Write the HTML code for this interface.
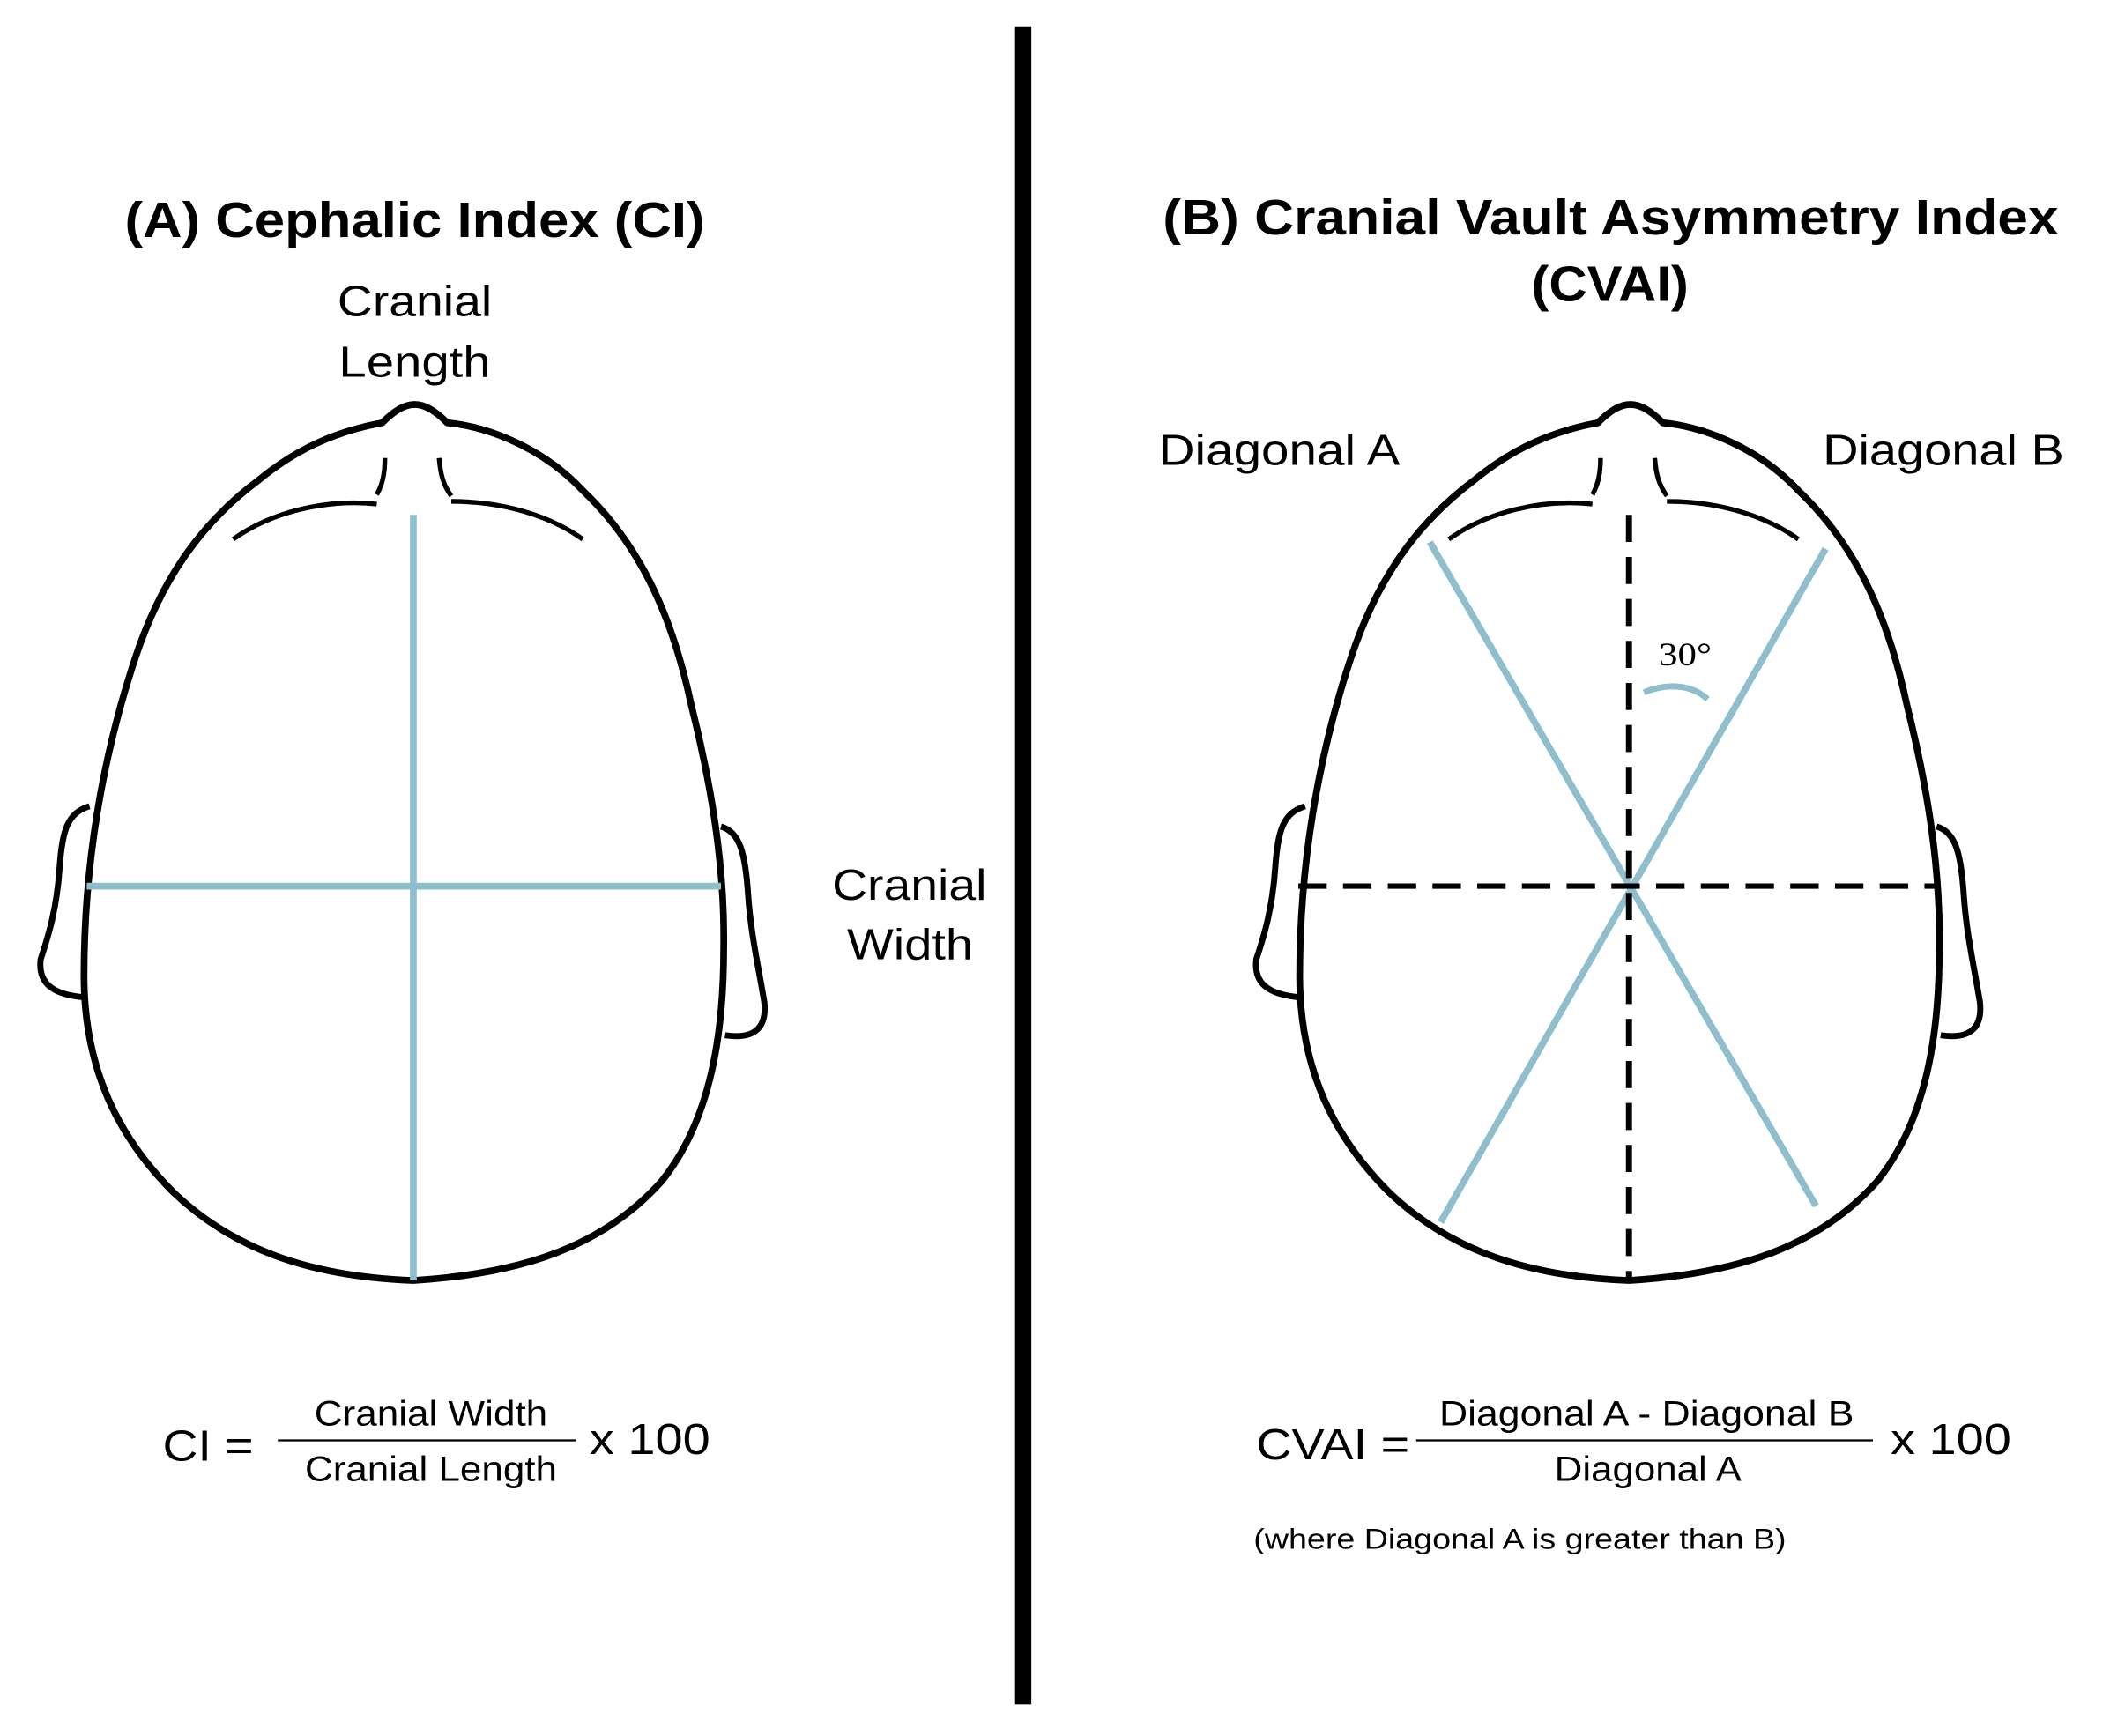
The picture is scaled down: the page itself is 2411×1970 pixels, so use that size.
<!DOCTYPE html>
<html><head><style>html,body{margin:0;padding:0;background:#fff}svg{display:block}</style></head>
<body>
<svg width="2411" height="1970" viewBox="0 0 1568 1281.2" xmlns="http://www.w3.org/2000/svg" font-family="Liberation Sans, sans-serif">
<rect width="1600" height="1300" fill="#fff"/>
<rect x="749" y="20" width="12" height="1238" fill="#000"/>
<defs>
<g id="head">
<path d="M282,312 C300,294 312,294 330,312 C360,315 400,330 430,362 C470,400 495,450 510,520 C525,580 535,640 534,700 C534,770 522,830 488,872 C445,920 385,940 305,945 C225,942 170,920 128,880 C88,840 62,790 62,720 C62,640 75,560 100,485 C120,425 150,385 190,355 C220,330 250,318 282,312 Z" fill="none" stroke="#000" stroke-width="5" stroke-linejoin="round"/>
<path d="M172,398 C200,378 240,368 278,372 M284,338 C284,350 282,358 278,365" fill="none" stroke="#000" stroke-width="3.5"/>
<path d="M430,398 C405,380 370,370 333,370 M324,338 C325,350 327,358 333,366" fill="none" stroke="#000" stroke-width="3.5"/>
<path d="M66,595 C50,600 46,612 44,640 C42,670 36,690 30,708 C28,725 38,734 62,736" fill="none" stroke="#000" stroke-width="4.5"/>
<path d="M532,610 C546,614 550,630 552,660 C554,690 560,715 564,740 C566,760 555,767 535,764" fill="none" stroke="#000" stroke-width="4.5"/>
</g>
</defs>
<text x="92" y="175" font-size="37" font-weight="bold" textLength="428" lengthAdjust="spacingAndGlyphs">(A) Cephalic Index (CI)</text>
<text x="249" y="233" font-size="32" textLength="114" lengthAdjust="spacingAndGlyphs">Cranial</text>
<text x="250" y="278" font-size="32" textLength="112" lengthAdjust="spacingAndGlyphs">Length</text>
<use href="#head"/>
<line x1="305" y1="380" x2="305" y2="945" stroke="#8fbfcc" stroke-width="5"/>
<line x1="64" y1="654" x2="532" y2="654" stroke="#8fbfcc" stroke-width="5"/>
<text x="614" y="664" font-size="32" textLength="114" lengthAdjust="spacingAndGlyphs">Cranial</text>
<text x="625" y="708" font-size="32" textLength="93" lengthAdjust="spacingAndGlyphs">Width</text>
<text x="120" y="1078" font-size="32" textLength="67" lengthAdjust="spacingAndGlyphs">CI =</text>
<text x="232" y="1052" font-size="26" textLength="172" lengthAdjust="spacingAndGlyphs">Cranial Width</text>
<line x1="205" y1="1063" x2="425" y2="1063" stroke="#000" stroke-width="1.5"/>
<text x="225" y="1093" font-size="26" textLength="186" lengthAdjust="spacingAndGlyphs">Cranial Length</text>
<text x="435" y="1073" font-size="32" textLength="89" lengthAdjust="spacingAndGlyphs">x 100</text>

<text x="858" y="173" font-size="37" font-weight="bold" textLength="661" lengthAdjust="spacingAndGlyphs">(B) Cranial Vault Asymmetry Index</text>
<text x="1130" y="222" font-size="37" font-weight="bold" textLength="116" lengthAdjust="spacingAndGlyphs">(CVAI)</text>
<text x="855" y="343" font-size="32" textLength="178" lengthAdjust="spacingAndGlyphs">Diagonal A</text>
<text x="1345" y="343" font-size="32" textLength="178" lengthAdjust="spacingAndGlyphs">Diagonal B</text>
<use href="#head" transform="translate(897,0)"/>
<line x1="1055" y1="400" x2="1340" y2="890" stroke="#8fbfcc" stroke-width="5"/>
<line x1="1347" y1="405" x2="1063" y2="902" stroke="#8fbfcc" stroke-width="5"/>
<line x1="1202" y1="380" x2="1202" y2="945" stroke="#000" stroke-width="4.5" stroke-dasharray="20,11"/>
<line x1="958" y1="654" x2="1432" y2="654" stroke="#000" stroke-width="4" stroke-dasharray="21,12"/>
<path d="M1213,511 C1230,504 1248,505 1260,516" fill="none" stroke="#8fbfcc" stroke-width="4.5"/>
<text x="1224" y="491" font-size="24" font-family="Liberation Serif, serif" textLength="39" lengthAdjust="spacingAndGlyphs">30°</text>
<text x="927" y="1077" font-size="32" textLength="113" lengthAdjust="spacingAndGlyphs">CVAI =</text>
<text x="1062" y="1052" font-size="26" textLength="306" lengthAdjust="spacingAndGlyphs">Diagonal A - Diagonal B</text>
<line x1="1045" y1="1063" x2="1382" y2="1063" stroke="#000" stroke-width="1.5"/>
<text x="1147" y="1093" font-size="26" textLength="138" lengthAdjust="spacingAndGlyphs">Diagonal A</text>
<text x="1395" y="1073" font-size="32" textLength="89" lengthAdjust="spacingAndGlyphs">x 100</text>
<text x="925" y="1143" font-size="21" textLength="393" lengthAdjust="spacingAndGlyphs">(where Diagonal A is greater than B)</text>
</svg>
</body></html>
